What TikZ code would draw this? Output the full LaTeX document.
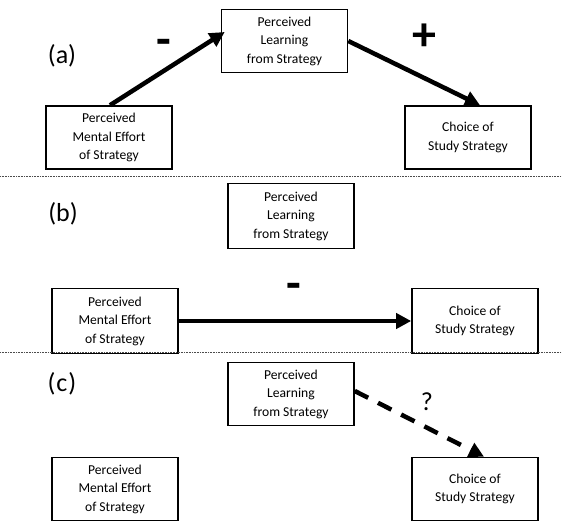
\documentclass[tikz,border=0pt]{standalone}
\usepackage{fontspec}
\setmainfont{Carlito}
\usetikzlibrary{arrows.meta}
\begin{document}
\begin{tikzpicture}[x=1pt,y=-1pt,
  box/.style={draw, line width=1.6pt, align=center, inner sep=0pt,
    font=\fontsize{13.6}{18.5}\selectfont, minimum width=126pt, minimum height=63pt},
  arr/.style={line width=4.5pt, -{Triangle[length=15pt,width=15pt]}},
  dasharr/.style={arr, dash pattern=on 15pt off 11pt},
  sepline/.style={black!70, line width=0.6pt, dash pattern=on 0.8pt off 0.8pt},
  lab/.style={font=\fontsize{26}{26}\selectfont, inner sep=0pt},
  sgn/.style={font=\fontsize{48}{48}\selectfont\bfseries, inner sep=0pt},
  qm/.style={font=\fontsize{26}{26}\selectfont, inner sep=0pt}]
\useasboundingbox (0,0) rectangle (562,522);

% (a)
\node[lab] (la) at (62,56) {(a)};
\node[box] (PLa) at (284.5,41) {Perceived\\Learning\\from Strategy};
\node[box] (MEa) at (109,137.5) {Perceived\\Mental Effort\\of Strategy};
\node[box] (CSa) at (468,137.5) {Choice of\\Study Strategy};
\draw[arr] ([xshift=1pt]MEa.north) -- ([xshift=4pt,yshift=9pt]PLa.west);
\draw[arr] (PLa.east) -- ([xshift=12pt]CSa.north);
\node[sgn] (ma) at (164,47) {-};
\node[sgn] (pa) at (424,37) {+};

\coordinate (s1a) at (0,176);
\coordinate (s1b) at (562,176);
\draw[sepline] (s1a) -- (s1b);

% (b)
\node[lab] (lb) at (63,214) {(b)};
\node[box, minimum height=65pt] (PLb) at (291,216) {Perceived\\Learning\\from Strategy};
\node[box, minimum height=65pt] (MEb) at (115,321) {Perceived\\Mental Effort\\of Strategy};
\node[box, minimum height=65pt] (CSb) at (475,321) {Choice of\\Study Strategy};
\draw[arr] (MEb.east) -- (CSb.west);
\node[sgn] (mb) at (294,291) {-};

\coordinate (s2a) at (0,352.5);
\coordinate (s2b) at (562,352.5);
\draw[sepline] (s2a) -- (s2b);

% (c)
\node[lab] (lc) at (62,384) {(\kern1pt c\kern1pt)};
\node[box] (PLc) at (291,394) {Perceived\\Learning\\from Strategy};
\node[box] (MEc) at (115,489) {Perceived\\Mental Effort\\of Strategy};
\node[box] (CSc) at (475,489) {Choice of\\Study Strategy};
\draw[dasharr] ([yshift=3pt]PLc.east) -- ([xshift=9pt]CSc.north);
\node[qm] (qc) at (427,402) {?};
\end{tikzpicture}
\end{document}
